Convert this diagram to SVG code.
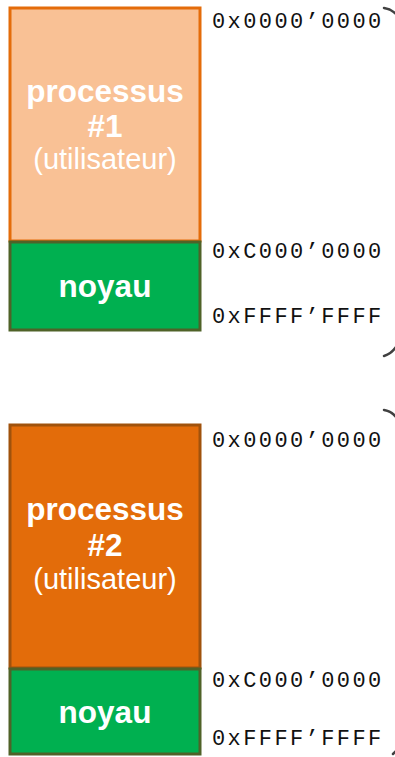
<svg xmlns="http://www.w3.org/2000/svg" width="395" height="757" viewBox="0 0 395 757">
  <style>
    .lbl { font-family: "Liberation Sans", Arial, sans-serif; fill: #ffffff; text-anchor: middle; }
    .b { font-weight: bold; font-size: 31.5px; }
    .r { font-size: 29px; }
    .addr { font-family: "Liberation Mono", "Courier New", monospace; font-size: 22px; letter-spacing: 2.4px; fill: #111111; }
    .brace { fill: none; stroke: #404040; stroke-width: 2.5; stroke-linecap: round; }
  </style>

  <!-- address space of process 1 -->
  <g id="proc1">
    <rect x="10" y="8" width="190" height="233" fill="#F9C195" stroke="#E46C0A" stroke-width="3"/>
    <text class="lbl b" x="105" y="102">processus</text>
    <text class="lbl b" x="105" y="137">#1</text>
    <text class="lbl r" x="105" y="169">(utilisateur)</text>
  </g>
  <g id="kernel1">
    <rect x="10" y="242" width="190" height="88" fill="#00B050" stroke="#4F6228" stroke-width="3"/>
    <text class="lbl b" x="105" y="297">noyau</text>
  </g>

  <!-- address space of process 2 -->
  <g id="proc2">
    <rect x="10" y="425" width="190" height="243" fill="#E36C0A" stroke="#A0520C" stroke-width="3"/>
    <text class="lbl b" x="105" y="520">processus</text>
    <text class="lbl b" x="105" y="556">#2</text>
    <text class="lbl r" x="105" y="589">(utilisateur)</text>
  </g>
  <g id="kernel2">
    <rect x="10" y="669" width="190" height="85" fill="#00B050" stroke="#4F6228" stroke-width="3"/>
    <text class="lbl b" x="105" y="723">noyau</text>
  </g>

  <!-- address labels -->
  <g id="addresses">
    <text class="addr" x="212" y="28">0x0000’0000</text>
    <text class="addr" x="212" y="258">0xC000’0000</text>
    <text class="addr" x="212" y="323">0xFFFF’FFFF</text>
    <text class="addr" x="212" y="447">0x0000’0000</text>
    <text class="addr" x="212" y="687">0xC000’0000</text>
    <text class="addr" x="212" y="745">0xFFFF’FFFF</text>
  </g>

  <!-- brace ends at the right edge -->
  <g id="connectors">
    <path class="brace" d="M384 8 Q391 9 396 14"/>
    <path class="brace" d="M384 356 Q391 354 396 347"/>
    <path class="brace" d="M384 410 Q391 411 396 417"/>
    <path class="brace" d="M393 754 Q395 752 397 750"/>
  </g>
</svg>
